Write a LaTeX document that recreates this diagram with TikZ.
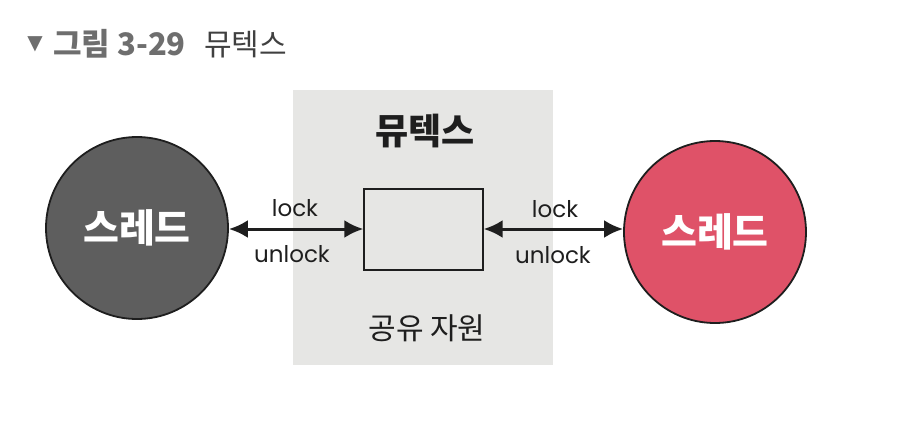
\documentclass[tikz,border=0pt]{standalone}
\usepackage{fontspec}
\setmainfont{Noto Sans}
\newfontfamily\kr{Noto Sans CJK KR}
\newfontfamily\sym{DejaVu Sans}
\newfontfamily\hand{Poppins}
\usetikzlibrary{arrows.meta}
\definecolor{bggray}{HTML}{E6E6E4}
\definecolor{darkthread}{HTML}{5E5E5E}
\definecolor{pinkthread}{HTML}{DF5268}
\definecolor{titlegray}{HTML}{6E6E6E}
\definecolor{ink}{HTML}{1E1E1E}
\tikzset{
  thread/.style={circle, draw=ink, line width=1.8pt, minimum size=182pt, inner sep=0pt, text=white, font=\kr\fontsize{39}{44}\selectfont\bfseries},
  resource/.style={draw=ink, line width=1.3pt, minimum width=119pt, minimum height=81pt, inner sep=0pt},
  lbl/.style={font=\hand\fontsize{23}{26}\selectfont, text=ink, inner sep=0pt},
  link/.style={{Latex[length=19pt,width=18pt]}-{Latex[length=19pt,width=18pt]}, line width=3pt, draw=ink},
  ttl/.style={anchor=west, inner sep=0pt, font=\kr\fontsize{30}{34}\selectfont},
}
\begin{document}
\begin{tikzpicture}[x=1pt,y=-1pt]
\useasboundingbox (0,0) rectangle (898,432);
\fill[white] (0,0) rectangle (898,432);
% title
\node[inner sep=0pt, text=titlegray, font=\sym\fontsize{20}{24}\selectfont] (tri) at (35,44) {▼};
\node[ttl, text=titlegray, font=\kr\fontsize{31}{34}\selectfont\bfseries] (ttlnum) at (53,44) {그림 3-29};
\node[ttl, text=ink!85] (ttlname) at (204,44) {뮤텍스};
% background
\fill[bggray] (293,90) rectangle (553,365);
\node[font=\kr\fontsize{36}{40}\selectfont\bfseries, text=ink, inner sep=0pt] (mtx) at (425,131) {뮤텍스};
\node[resource] (res) at (423.5,229.5) {};
\node[font=\kr\fontsize{30}{34}\selectfont, text=ink, inner sep=0pt] (shared) at (427,328) {공유 자원};
% threads
\node[thread, fill=darkthread] (t1) at (137,228) {스레드};
\node[thread, fill=pinkthread] (t2) at (715,232) {스레드};
% arrows
\draw[link] (t1.east |- 0,229) -- (res.west |- 0,229);
\draw[link] (res.east |- 0,229) -- (t2.west |- 0,229);
\node[lbl] (lk1) at (295,208) {lock};
\node[lbl] (ul1) at (292,254) {unlock};
\node[lbl] (lk2) at (555,209) {lock};
\node[lbl] (ul2) at (553,255) {unlock};
\end{tikzpicture}
\end{document}
